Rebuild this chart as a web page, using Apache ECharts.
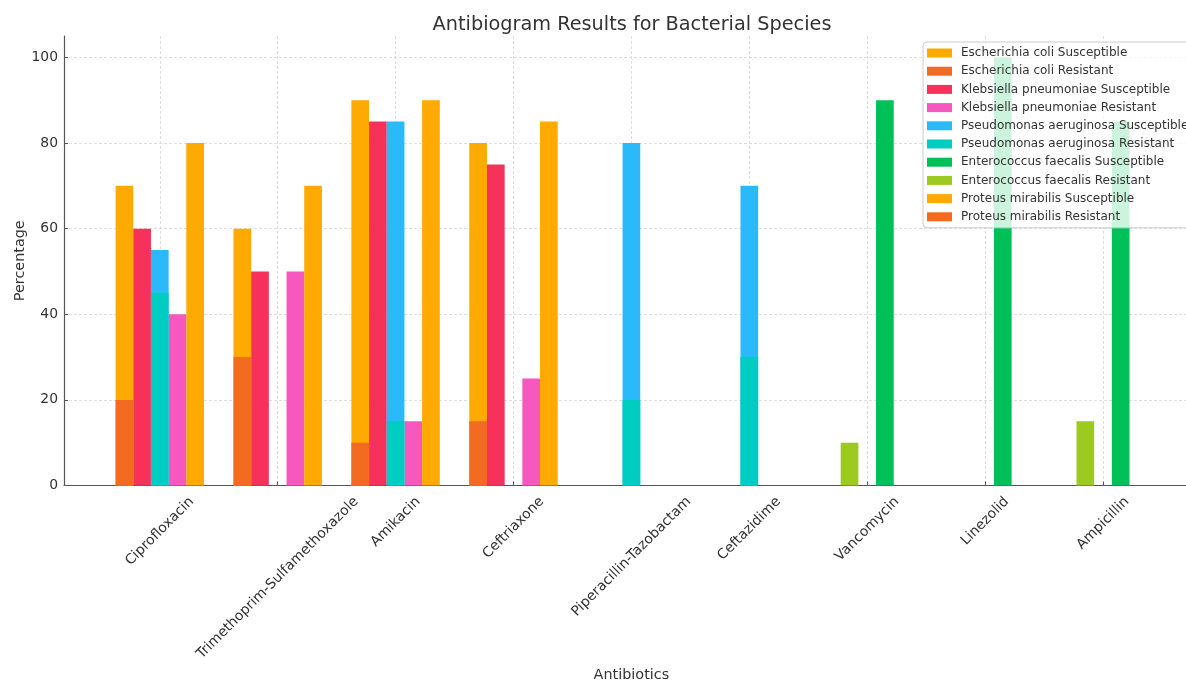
<!DOCTYPE html>
<html>
<head>
<meta charset="utf-8">
<title>Antibiogram Results for Bacterial Species</title>
<script src="https://cdn.jsdelivr.net/npm/echarts@6/dist/echarts.min.js"></script>
<style>
  html, body { margin: 0; padding: 0; background: #fff; }
  #main { width: 1186px; height: 681px; }
</style>
</head>
<body>
<div id="main"></div>
<script>
var antibiotics = ['Ciprofloxacin', 'Trimethoprim-Sulfamethoxazole', 'Amikacin', 'Ceftriaxone',
    'Piperacillin-Tazobactam', 'Ceftazidime', 'Vancomycin', 'Linezolid', 'Ampicillin'];

// percentages per antibiotic (null = not tested)
var ecoliS    = [70, 60, 90, 80, null, null, null, null, null];
var ecoliR    = [20, 30, 10, 15, null, null, null, null, null];
var klebS     = [60, 50, 85, 75, null, null, null, null, null];
var klebR     = [40, 50, 15, 25, null, null, null, null, null];
var pseudoS   = [55, null, 85, null, 80, 70, null, null, null];
var pseudoR   = [45, null, 15, null, 20, 30, null, null, null];
var enteroS   = [null, null, null, null, null, null, 90, 100, 85];
var enteroR   = [null, null, null, null, null, null, 10, null, 15];
var proteusS  = [80, 70, 90, 85, null, null, null, null, null];
var proteusR  = [null, null, null, null, null, null, null, null, null];

var barW = 0.15;
var chart = echarts.init(document.getElementById('main'));

// series: name, values, colour, slot offset (in bar widths)
var seriesDefs = [
    ['Escherichia coli Susceptible', ecoliS, '#ffaa00', -2],
    ['Escherichia coli Resistant', ecoliR, '#f26b21', -2],
    ['Klebsiella pneumoniae Susceptible', klebS, '#f7325a', -1],
    ['Klebsiella pneumoniae Resistant', klebR, '#f758c0', 1],
    ['Pseudomonas aeruginosa Susceptible', pseudoS, '#2abafa', 0],
    ['Pseudomonas aeruginosa Resistant', pseudoR, '#00cdc1', 0],
    ['Enterococcus faecalis Susceptible', enteroS, '#00c157', 1],
    ['Enterococcus faecalis Resistant', enteroR, '#9dca1e', -1],
    ['Proteus mirabilis Susceptible', proteusS, '#ffaa00', 2],
    ['Proteus mirabilis Resistant', proteusR, '#f26b21', 2]
];

function barRender(slot) {
    return function (params, api) {
        var x = api.value(0) + slot * barW;
        var top = api.coord([x - barW / 2, api.value(1)]);
        var base = api.coord([x + barW / 2, 0]);
        return {
            type: 'rect',
            shape: { x: top[0], y: top[1], width: base[0] - top[0], height: base[1] - top[1] },
            style: api.style()
        };
    };
}

var series = seriesDefs.map(function (d) {
    var pts = [];
    for (var i = 0; i < d[1].length; i++) {
        if (d[1][i] != null) pts.push([i, d[1][i]]);
    }
    return {
        name: d[0],
        type: 'custom',
        renderItem: barRender(d[3]),
        itemStyle: { color: d[2] },
        encode: { x: 0, y: 1 },
        data: pts
    };
});

// rotated labels centred under the tick like matplotlib
var tickFont = 13.9;
var ctx = document.createElement('canvas').getContext('2d');
ctx.font = tickFont + 'px "DejaVu Sans"';
var rich = {};
antibiotics.forEach(function (name, i) {
    var L = ctx.measureText(name).width;
    rich['c' + i] = { fontSize: tickFont, color: '#333', padding: [L / 2, L / 2, 0, 0] };
});

var option = {
    animation: false,
    textStyle: { fontFamily: 'DejaVu Sans' },
    title: {
        text: 'Antibiogram Results for Bacterial Species',
        left: 627,
        top: 10,
        textAlign: 'center',
        textStyle: { fontSize: 19.3, fontWeight: 'normal', color: '#333', fontFamily: 'DejaVu Sans' }
    },
    legend: {
        orient: 'vertical',
        left: 923,
        top: 42,
        icon: 'rect',
        itemWidth: 25,
        itemHeight: 9,
        itemGap: 4.2,
        padding: [4, 10, 4, 4],
        selectedMode: false,
        backgroundColor: 'rgba(255,255,255,0.8)',
        borderColor: '#cccccc',
        borderWidth: 1,
        borderRadius: 4,
        textStyle: { fontSize: 12, color: '#333', lineHeight: 14, padding: [0, 0, 0, 4], fontFamily: 'DejaVu Sans' },
        data: seriesDefs.map(function (d) { return d[0]; })
    },
    grid: { left: 64, top: 36, width: 1134.8, height: 449.5, outerBoundsMode: 'none', containLabel: false },
    xAxis: {
        type: 'value',
        min: -0.8125,
        max: 8.8125,
        splitNumber: 10,
        minInterval: 1,
        maxInterval: 1,
        name: 'Antibiotics',
        nameLocation: 'middle',
        nameGap: 183,
        nameMoveOverlap: false,
        nameTextStyle: { fontSize: 14.4, color: '#333' },
        axisLine: { show: true, onZero: false, lineStyle: { color: '#555', width: 1.2 } },
        axisTick: { show: true, inside: true, length: 4, lineStyle: { color: '#555' } },
        axisLabel: {
            rotate: 45,
            align: 'center',
            verticalAlign: 'middle',
            margin: 14,
            formatter: function (v) {
                var i = Math.round(v);
                if (Math.abs(v - i) > 1e-6 || i < 0 || i >= antibiotics.length) return '';
                return '{c' + i + '|' + antibiotics[i] + '}';
            },
            rich: rich
        },
        splitLine: { show: true, showMinLine: false, lineStyle: { color: '#d5d5d5', type: [3, 2], width: 0.8 } }
    },
    yAxis: {
        type: 'value',
        min: 0,
        max: 105,
        interval: 20,
        name: 'Percentage',
        nameLocation: 'middle',
        nameGap: 37,
        nameMoveOverlap: false,
        nameTextStyle: { fontSize: 14.4, color: '#333' },
        axisLine: { show: true, onZero: false, lineStyle: { color: '#555', width: 1.2 } },
        axisTick: { show: true, inside: true, length: 4, lineStyle: { color: '#555' } },
        axisLabel: { fontSize: tickFont, color: '#333', margin: 6, showMaxLabel: false },
        splitLine: { show: true, showMaxLine: false, lineStyle: { color: '#d5d5d5', type: [3, 2], width: 0.8 } }
    },
    series: series
};

chart.setOption(option);
</script>
</body>
</html>
